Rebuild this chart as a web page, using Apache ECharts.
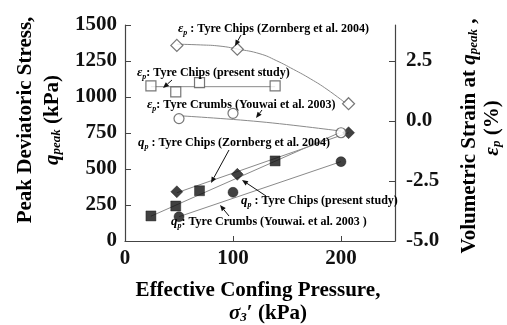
<!DOCTYPE html>
<html><head><meta charset="utf-8">
<script src="https://cdn.jsdelivr.net/npm/echarts@6/dist/echarts.min.js"></script>
<style>html,body{margin:0;padding:0;background:#fff}#c{width:507px;height:325px}</style>
</head><body><div id="c"></div>
<script>
// ---- data ----
var xZornberg = [48, 104, 207];
var qZornberg = [342, 463, 752];
var epsZornberg = [3.15, 2.99, 0.72];

var xPresent = [24, 47, 69, 139];
var qPresent = [174, 243, 349, 556];
var epsPresent = [1.46, 1.21, 1.6, 1.46];

var xYouwai = [50, 100, 200];
var qYouwai = [169, 338, 551];
var epsYouwai = [0.1, 0.32, -0.49];

// trend lines
var qZornbergFitX = [48, 207];
var qZornbergFitY = [335, 752];
var qPresentFitX = [24, 198];
var qPresentFitY = [172, 750];
var qYouwaiFitX = [50, 200];
var qYouwaiFitY = [169, 551];
var epsZornbergFitX = [48, 70, 88, 104, 125, 140, 156, 172, 187, 205];
var epsZornbergFitY = [3.2, 3.17, 3.12, 3.0, 2.8, 2.52, 2.15, 1.75, 1.32, 0.72];
var epsPresentFitX = [24, 139];
var epsPresentFitY = [1.43, 1.43];
var epsYouwaiFitX = [50, 125, 200];
var epsYouwaiFitY = [0.22, -0.03, -0.42];

var xTicks = [0, 100, 200];
var yLeftTicks = [0, 250, 500, 750, 1000, 1250, 1500];
var yRightTicks = [-5, -2.5, 0, 2.5];

function zip(a, b) { return a.map(function (v, i) { return [v, b[i]]; }); }

var FONT = 'Liberation Serif';
var chart = echarts.init(document.getElementById('c'));

function scatter(x, y, axis, symbol, size, filled) {
  return {
    type: 'scatter', yAxisIndex: axis, data: zip(x, y), symbol: symbol, symbolSize: size, z: 5,
    itemStyle: filled ? { color: '#111', borderColor: '#111', borderWidth: 0.5 }
                      : { color: '#fff', borderColor: '#555', borderWidth: 1.2 }
  };
}
function fit(x, y, axis, smooth) {
  return {
    type: 'line', yAxisIndex: axis, data: zip(x, y), showSymbol: false, symbol: 'none',
    smooth: smooth || false, z: 2, silent: true,
    lineStyle: { color: '#8a8a8a', width: 1 }
  };
}

var rich = {
  t: { fontFamily: FONT, fontWeight: 'bold', fontSize: 12, color: '#111', lineHeight: 15 },
  e: { fontFamily: FONT, fontWeight: 'bold', fontStyle: 'italic', fontSize: 13, color: '#111', lineHeight: 15 },
  s: { fontFamily: FONT, fontWeight: 'bold', fontStyle: 'italic', fontSize: 8, color: '#111', lineHeight: 6, verticalAlign: 'bottom' }
};
function ann(x, y, sym, txt) {
  return {
    type: 'text', x: x, y: y, z: 10,
    style: { text: '{e|' + sym + '}{s|p}{t|' + txt + '}', rich: rich, verticalAlign: 'middle', align: 'left' }
  };
}
function arrow(x1, y1, x2, y2) {
  var ang = Math.atan2(y2 - y1, x2 - x1), L = 6, W = 2.5;
  var bx = x2 - L * Math.cos(ang), by = y2 - L * Math.sin(ang);
  var px = -Math.sin(ang) * W, py = Math.cos(ang) * W;
  return [
    { type: 'line', z: 10, shape: { x1: x1, y1: y1, x2: bx, y2: by }, style: { stroke: '#111', lineWidth: 1 } },
    { type: 'polygon', z: 10, shape: { points: [[x2, y2], [bx + px, by + py], [bx - px, by - py]] }, style: { fill: '#111' } }
  ];
}

var titleRich = {
  b: { fontFamily: FONT, fontWeight: 'bold', fontSize: 21, color: '#111' },
  i: { fontFamily: FONT, fontWeight: 'bold', fontStyle: 'italic', fontSize: 21, color: '#111' },
  sub: { fontFamily: FONT, fontWeight: 'bold', fontStyle: 'italic', fontSize: 13, color: '#111', verticalAlign: 'bottom', lineHeight: 11 }
};
function title(x, y, text, rot) {
  return { type: 'text', x: x, y: y, rotation: rot || 0, z: 10,
    style: { text: text, rich: titleRich, align: 'center', verticalAlign: 'middle' } };
}

var graphics = [
  ann(178, 29, 'ε', ' : Tyre Chips (Zornberg et al. 2004)'),
  ann(137, 73, 'ε', ': Tyre Chips (present study)'),
  ann(147, 105, 'ε', ': Tyre Crumbs (Youwai et al. 2003)'),
  ann(138, 143, 'q', ' : Tyre Chips (Zornberg et al. 2004)'),
  ann(241, 201, 'q', ' : Tyre Chips (present study)'),
  ann(171, 222, 'q', ': Tyre Crumbs (Youwai. et al. 2003 )'),
  title(26, 120, '{b|Peak Deviatoric Stress,}', Math.PI / 2),
  title(53, 120, '{i|q}{sub|peak}{b| (kPa)}', Math.PI / 2),
  title(470, 136, '{b|Volumetric Strain at }{i|q}{sub|peak}{b| ,}', Math.PI / 2),
  title(493, 128, '{i|ε}{sub|p}{b| (%)}', Math.PI / 2),
  title(258, 291, '{b|Effective Confing Pressure,}'),
  title(268, 314, '{i|σ}{sub|3}{b|′ (kPa)}')
];
graphics = graphics
  .concat(arrow(241, 35, 235, 46))
  .concat(arrow(172, 80, 163, 88))
  .concat(arrow(262, 110, 256, 118))
  .concat(arrow(229, 150, 211, 183))
  .concat(arrow(266, 196, 242, 180))
  .concat(arrow(229, 216, 220, 205));

var labelStyle = { fontFamily: FONT, fontWeight: 'bold', fontSize: 21, color: '#111' };
var axisLine = { show: true, lineStyle: { color: '#444', width: 1.2 } };

chart.setOption({
  animation: false,
  backgroundColor: '#fff',
  grid: { left: 125, right: 112, top: 25, bottom: 84, containLabel: false },
  xAxis: {
    type: 'value', min: 0, max: 250, interval: 100,
    axisLine: axisLine, splitLine: { show: false },
    axisTick: { show: true, inside: true, length: 5, customValues: xTicks, lineStyle: { color: '#444' } },
    axisLabel: Object.assign({ margin: 7, customValues: xTicks, formatter: function (v) { return String(v); } }, labelStyle)
  },
  yAxis: [{
    type: 'value', min: 0, max: 1500, interval: 250, position: 'left',
    axisLine: axisLine, splitLine: { show: false },
    axisTick: { show: true, inside: true, length: 6, customValues: yLeftTicks, lineStyle: { color: '#444' } },
    axisLabel: Object.assign({ margin: 8, customValues: yLeftTicks, formatter: function (v) { return String(v); } }, labelStyle)
  }, {
    type: 'value', min: -5, max: 4, interval: 2.5, position: 'right',
    axisLine: axisLine, splitLine: { show: false },
    axisTick: { show: true, inside: true, length: 6, customValues: yRightTicks, lineStyle: { color: '#444' } },
    axisLabel: Object.assign({ margin: 11, customValues: yRightTicks, formatter: function (v) { return v.toFixed(1); } }, labelStyle)
  }],
  series: [
    fit(qZornbergFitX, qZornbergFitY, 0),
    fit(qPresentFitX, qPresentFitY, 0),
    fit(qYouwaiFitX, qYouwaiFitY, 0),
    fit(epsZornbergFitX, epsZornbergFitY, 1, 0.5),
    fit(epsPresentFitX, epsPresentFitY, 1),
    fit(epsYouwaiFitX, epsYouwaiFitY, 1, 0.4),
    scatter(xZornberg, qZornberg, 0, 'diamond', 12, true),
    scatter(xPresent, qPresent, 0, 'rect', 10, true),
    scatter(xYouwai, qYouwai, 0, 'circle', 10, true),
    scatter(xZornberg, epsZornberg, 1, 'diamond', 12, false),
    scatter(xPresent, epsPresent, 1, 'rect', 10, false),
    scatter(xYouwai, epsYouwai, 1, 'circle', 10, false)
  ],
  graphic: graphics
});
</script>
</body></html>
